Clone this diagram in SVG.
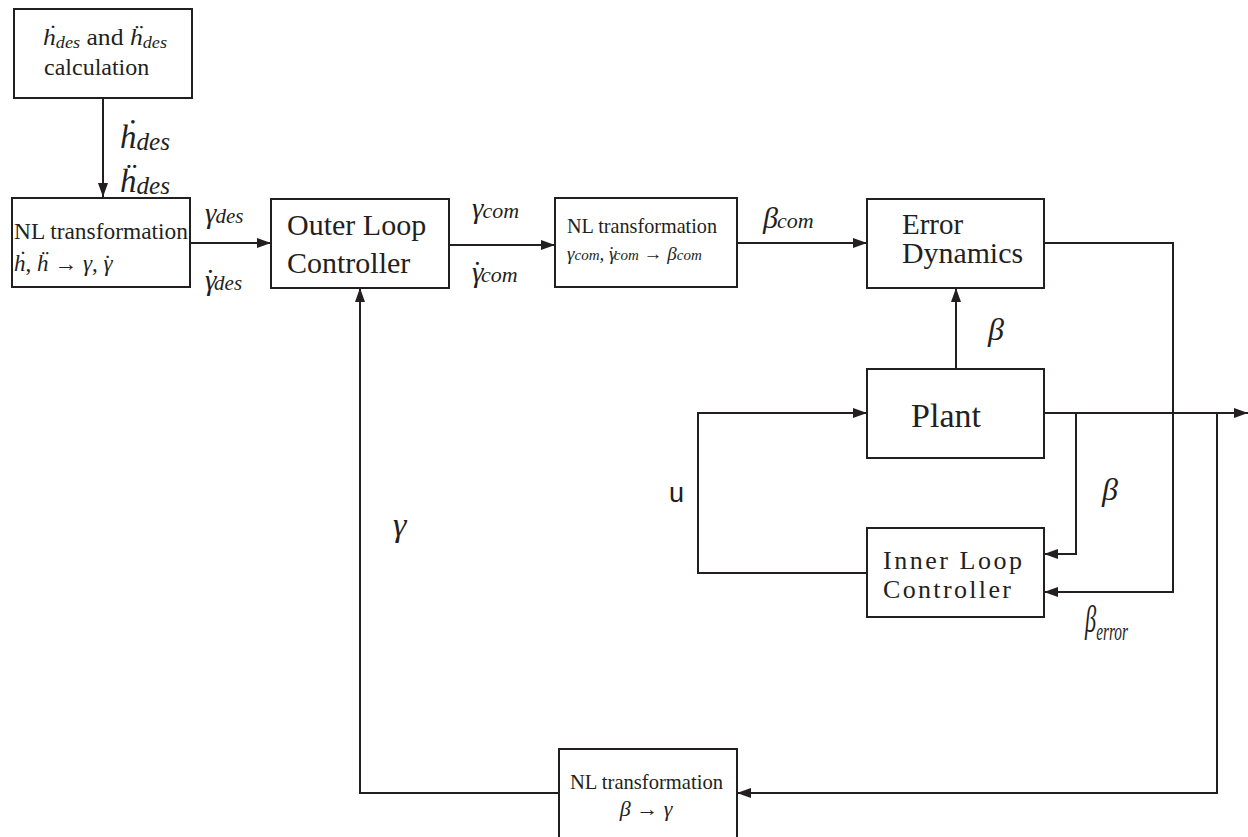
<svg xmlns="http://www.w3.org/2000/svg" width="1248" height="837" viewBox="0 0 1248 837">
<style>
.box{fill:#fff;stroke:#231f20;stroke-width:2}
.ln{fill:none;stroke:#231f20;stroke-width:2}
.t{font-family:"Liberation Serif","Times New Roman",serif;fill:#231f20}
.i{font-style:italic}
.s{font-family:"Liberation Sans",Arial,sans-serif;fill:#231f20}
</style>
<defs>
<marker id="ah" viewBox="0 0 14 10" refX="14" refY="5" markerWidth="14" markerHeight="10" markerUnits="userSpaceOnUse" orient="auto">
<path d="M0,0 L14,5 L0,10 Z" fill="#231f20"/>
</marker>
</defs>
<g id="connectors">
<path class="ln" d="M103,98 V197" marker-end="url(#ah)"/>
<path class="ln" d="M190,243 H271" marker-end="url(#ah)"/>
<path class="ln" d="M449,245 H555" marker-end="url(#ah)"/>
<path class="ln" d="M737,243 H867" marker-end="url(#ah)"/>
<path class="ln" d="M956,369 V288" marker-end="url(#ah)"/>
<path class="ln" d="M1044,243 H1173 V592 H1044" marker-end="url(#ah)"/>
<path class="ln" d="M1044,413 H1248" marker-end="url(#ah)"/>
<path class="ln" d="M1076,413 V554 H1044" marker-end="url(#ah)"/>
<path class="ln" d="M867,573 H698 V413 H867" marker-end="url(#ah)"/>
<path class="ln" d="M1217,413 V793 H737" marker-end="url(#ah)"/>
<path class="ln" d="M559,793 H360 V288" marker-end="url(#ah)"/>
</g>
<g id="n-calc">
<rect class="box" x="14" y="9" width="178" height="89"/>
<text class="t" x="43" y="45" font-size="24" textLength="124" lengthAdjust="spacingAndGlyphs"><tspan class="i">ḣ</tspan><tspan class="i" font-size="17" dy="3">des</tspan><tspan dy="-3"> and </tspan><tspan class="i">ḧ</tspan><tspan class="i" font-size="17" dy="3">des</tspan></text>
<text class="t" x="44" y="75" font-size="24">calculation</text>
</g>
<g id="n-nl1">
<rect class="box" x="12" y="198" width="178" height="89"/>
<text class="t" x="14" y="239" font-size="23" textLength="174" lengthAdjust="spacingAndGlyphs">NL transformation</text>
<text class="t" x="14" y="271" font-size="23"><tspan class="i">ḣ</tspan>, <tspan class="i">ḧ</tspan> → <tspan class="i">γ</tspan>, <tspan class="i">γ</tspan><tspan dx="-9">˙</tspan></text>
</g>
<g id="n-outer">
<rect class="box" x="271" y="199" width="178" height="89"/>
<text class="t" x="287" y="235" font-size="30">Outer Loop</text>
<text class="t" x="287" y="273" font-size="30">Controller</text>
</g>
<g id="n-nl2">
<rect class="box" x="555" y="198" width="182" height="89"/>
<text class="t" x="567" y="233" font-size="21" textLength="150" lengthAdjust="spacingAndGlyphs">NL transformation</text>
<text class="t i" x="567" y="260" font-size="19">γ<tspan font-size="15">com</tspan>, γ<tspan font-style="normal" dx="-8">˙</tspan><tspan font-size="15" dx="-1">com</tspan> <tspan font-style="normal">→</tspan> β<tspan font-size="15">com</tspan></text>
</g>
<g id="n-error">
<rect class="box" x="867" y="199" width="177" height="89"/>
<text class="t" x="902" y="234" font-size="29">Error</text>
<text class="t" x="902" y="263" font-size="29" textLength="121" lengthAdjust="spacingAndGlyphs">Dynamics</text>
</g>
<g id="n-plant">
<rect class="box" x="867" y="369" width="177" height="89"/>
<text class="t" x="946" y="427" font-size="34" text-anchor="middle">Plant</text>
</g>
<g id="n-inner">
<rect class="box" x="867" y="528" width="177" height="89"/>
<text class="t" x="883" y="569" font-size="26" textLength="139" lengthAdjust="spacing">Inner Loop</text>
<text class="t" x="883" y="598" font-size="26" textLength="128" lengthAdjust="spacing">Controller</text>
</g>
<g id="n-nl3">
<rect class="box" x="559" y="749" width="178" height="100"/>
<text class="t" x="570" y="789" font-size="21" textLength="153" lengthAdjust="spacingAndGlyphs">NL transformation</text>
<text class="t" x="646" y="816" font-size="22" text-anchor="middle"><tspan class="i">β</tspan> → <tspan class="i">γ</tspan></text>
</g>
<g id="labels">
<text class="t i" x="120" y="148" font-size="34" textLength="50" lengthAdjust="spacingAndGlyphs">ḣ<tspan font-size="26" dy="2">des</tspan></text>
<text class="t i" x="120" y="192" font-size="34" textLength="50" lengthAdjust="spacingAndGlyphs">ḧ<tspan font-size="26" dy="2">des</tspan></text>
<text class="t i" x="205" y="223" font-size="29">γ<tspan font-size="21" dx="-1">des</tspan></text>
<text class="t i" x="205" y="290" font-size="29">γ<tspan font-style="normal" dx="-11">˙</tspan><tspan font-size="21" dx="-1">des</tspan></text>
<text class="t i" x="472" y="218" font-size="29">γ<tspan font-size="22" dx="-1">com</tspan></text>
<text class="t i" x="472" y="282" font-size="29">γ<tspan font-style="normal" dx="-11">˙</tspan><tspan font-size="22" dx="-1">com</tspan></text>
<text class="t i" x="763" y="228" font-size="30">β<tspan font-size="22" dx="-1">com</tspan></text>
<text class="t i" x="988" y="340" font-size="32">β</text>
<text class="t i" x="1102" y="500" font-size="32">β</text>
<text class="t i" x="1085" y="632" font-size="38" textLength="43" lengthAdjust="spacingAndGlyphs">β<tspan font-size="26" dy="8">error</tspan></text>
<text class="t i" x="393" y="536" font-size="34">γ</text>
<text class="s" x="669" y="502" font-size="27">u</text>
</g>
</svg>
